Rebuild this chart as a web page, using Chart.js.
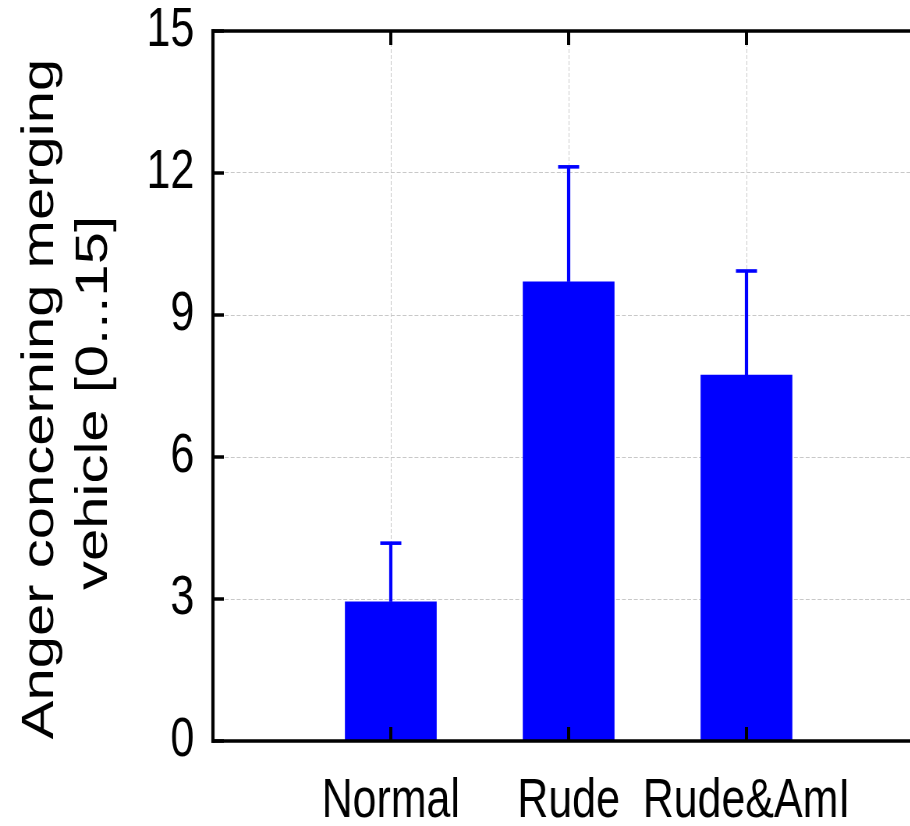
<!DOCTYPE html>
<html>
<head>
<meta charset="utf-8">
<script src="https://cdn.jsdelivr.net/npm/chart.js@4.4.1/dist/chart.umd.min.js"></script>
<style>
  html, body { margin: 0; padding: 0; background: #fff; overflow: hidden; }
  /* the source figure is squeezed horizontally, so draw wide and squeeze */
  #wrap { position: absolute; left: 0; top: 0; width: 1190px; height: 826px; transform: scaleX(0.78); transform-origin: 0 0; }
</style>
</head>
<body>
<div id="wrap"><canvas id="chart" width="1190" height="826"></canvas></div>
<script>
const categories = ['Normal', 'Rude', 'Rude&AmI'];
const means = [2.94, 9.70, 7.73];
const errors = [1.24, 2.43, 2.20];
const yTicks = [0, 3, 6, 9, 12, 15];
const yTitle = ['Anger concerning merging', 'vehicle [0...15]'];

const FONT = "'Liberation Sans', Arial, Helvetica, sans-serif";

// error bars + gnuplot style frame with inward ticks
const frameAndErrors = {
  id: 'frameAndErrors',
  afterDatasetsDraw(chart) {
    const { ctx, chartArea: a, scales: { x, y } } = chart;
    ctx.save();

    ctx.strokeStyle = '#0000ff';
    ctx.lineCap = 'butt';
    means.forEach((m, i) => {
      const cx = x.getPixelForValue(i);
      const top = y.getPixelForValue(m + errors[i]);
      ctx.lineWidth = 4.2;
      ctx.beginPath();
      ctx.moveTo(cx, y.getPixelForValue(m));
      ctx.lineTo(cx, top);
      ctx.stroke();
      ctx.lineWidth = 3.6;
      ctx.beginPath();
      ctx.moveTo(cx - 13.5, top);
      ctx.lineTo(cx + 13.5, top);
      ctx.stroke();
    });

    ctx.strokeStyle = '#000';
    ctx.lineWidth = 3.5;
    ctx.beginPath();
    ctx.moveTo(a.left - 2, a.top);
    ctx.lineTo(a.right, a.top);
    ctx.moveTo(a.left - 2, a.bottom);
    ctx.lineTo(a.right, a.bottom);
    ctx.stroke();
    ctx.lineWidth = 4.2;
    ctx.beginPath();
    ctx.moveTo(a.left, a.top - 1.7);
    ctx.lineTo(a.left, a.bottom + 1.7);
    ctx.moveTo(a.right, a.top - 1.7);
    ctx.lineTo(a.right, a.bottom + 1.7);
    ctx.stroke();

    // inward ticks
    ctx.lineWidth = 3.5;
    ctx.beginPath();
    yTicks.forEach(v => {
      const py = y.getPixelForValue(v);
      ctx.moveTo(a.left, py);
      ctx.lineTo(a.left + 14, py);
    });
    ctx.stroke();
    ctx.lineWidth = 4;
    ctx.beginPath();
    categories.forEach((c, i) => {
      const px = x.getPixelForValue(i);
      ctx.moveTo(px, a.bottom);
      ctx.lineTo(px, a.bottom - 14);
      ctx.moveTo(px, a.top);
      ctx.lineTo(px, a.top + 14);
    });
    ctx.stroke();
    ctx.restore();
  },
  afterDraw(chart) {
    // y label, placed like the gnuplot one (slightly below the plot centre)
    const { ctx, chartArea: a } = chart;
    ctx.save();
    ctx.translate(0, (a.top + a.bottom) / 2 + 13);
    ctx.rotate(-Math.PI / 2);
    ctx.fillStyle = '#000';
    ctx.font = '58px ' + FONT;
    ctx.textAlign = 'center';
    ctx.textBaseline = 'alphabetic';
    ctx.fillText(yTitle[0], 0, 68);
    ctx.fillText(yTitle[1], -4, 137);
    ctx.restore();
  }
};

const ctx = document.getElementById('chart').getContext('2d');

new Chart(ctx, {
  type: 'bar',
  data: {
    datasets: [{
      label: 'Anger',
      data: means.map((m, i) => ({ x: i, y: m })),
      backgroundColor: '#0000ff',
      borderWidth: 0,
      barThickness: 117
    }]
  },
  options: {
    responsive: false,
    animation: false,
    devicePixelRatio: 1,
    layout: { padding: { top: 31, right: 5, left: 0, bottom: 0 } },
    plugins: {
      legend: { display: false },
      tooltip: { enabled: false }
    },
    scales: {
      x: {
        type: 'linear',
        min: -1,
        max: 3,
        offset: false,
        afterBuildTicks: scale => { scale.ticks = categories.map((c, i) => ({ value: i })); },
        afterFit: scale => { scale.height = 85; },
        ticks: {
          color: '#000',
          padding: 28,
          maxRotation: 0,
          autoSkip: false,
          font: { family: FONT, size: 55 },
          callback: v => categories[v]
        },
        grid: { color: '#c8c8c8', lineWidth: 1, drawTicks: false, offset: false },
        border: { display: false, dash: [4, 2] }
      },
      y: {
        min: 0,
        max: 15,
        afterBuildTicks: scale => { scale.ticks = yTicks.map(v => ({ value: v })); },
        afterFit: scale => {
          scale.width = 273;
          scale.paddingTop = 0;
          scale.paddingBottom = 0;
        },
        ticks: {
          color: '#000',
          padding: 24,
          font: { family: FONT, size: 55 }
        },
        grid: { color: '#c8c8c8', lineWidth: 1, drawTicks: false },
        border: { display: false, dash: [5, 2.6] }
      }
    }
  },
  plugins: [frameAndErrors]
});
</script>
</body>
</html>
